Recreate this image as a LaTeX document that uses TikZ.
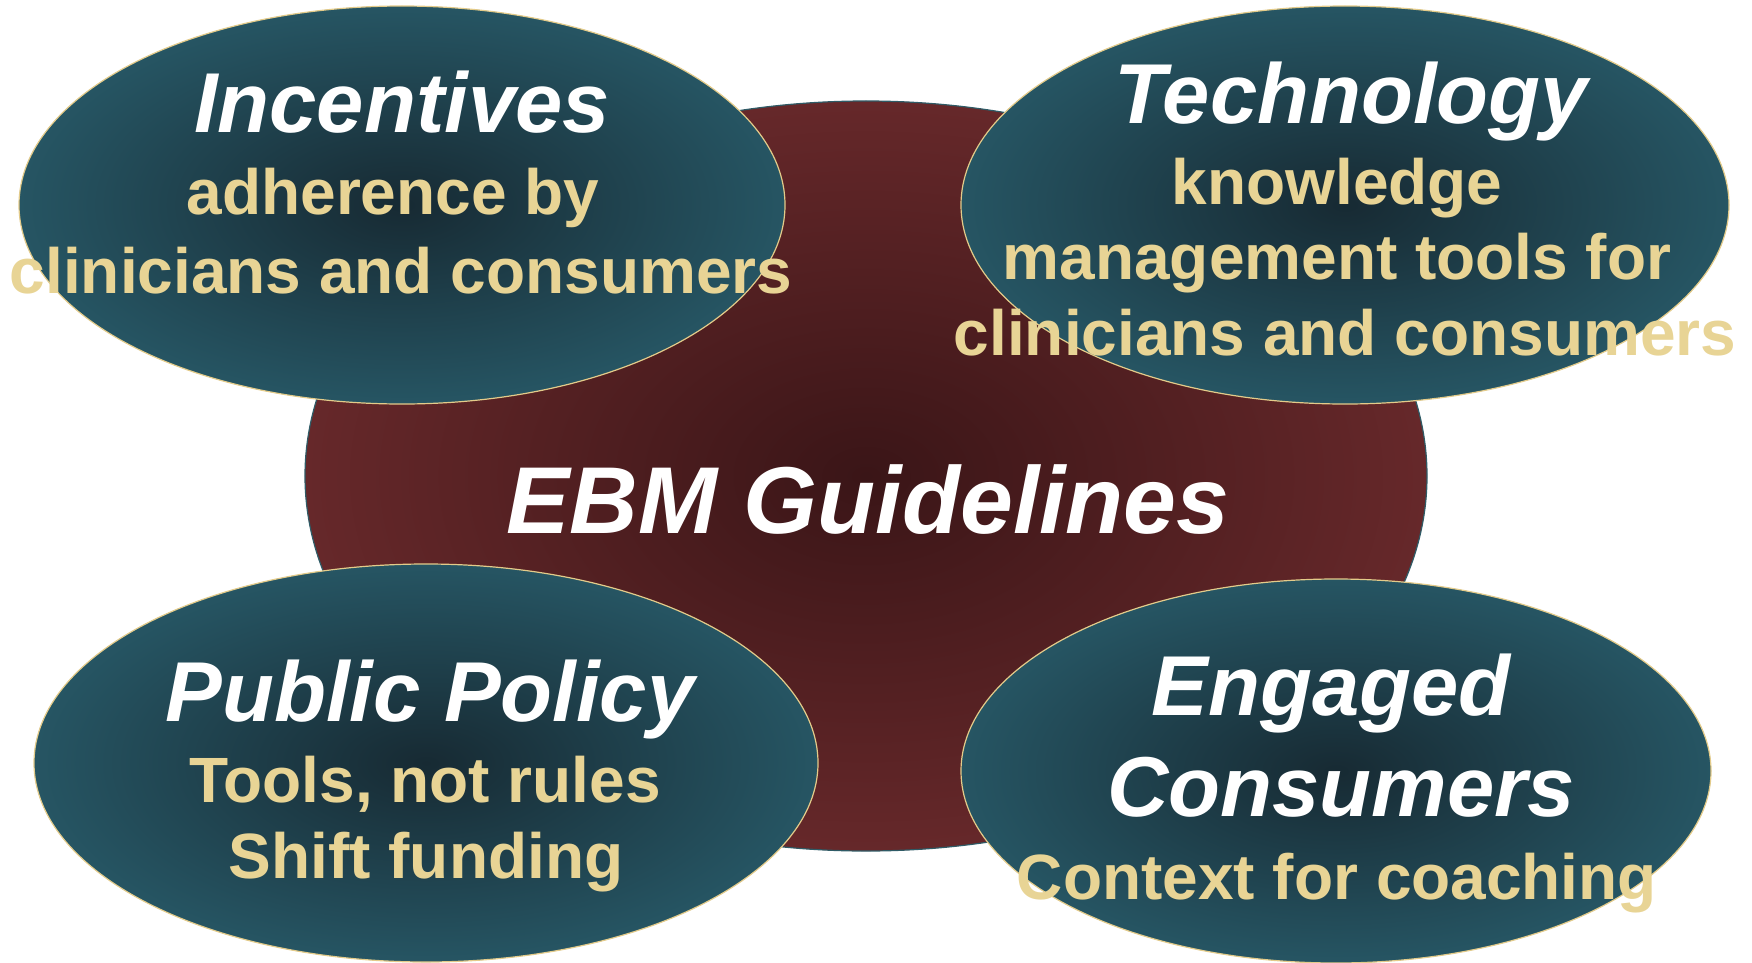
\documentclass[tikz,border=0pt]{standalone}
\usepackage{fontspec}
\setmainfont{Liberation Sans}
\usetikzlibrary{shapes.geometric}
\definecolor{tealout}{HTML}{265563}
\definecolor{tealin}{HTML}{172A33}
\definecolor{wineout}{HTML}{66282A}
\definecolor{winein}{HTML}{3A1517}
\definecolor{sand}{HTML}{E8D495}
\definecolor{rim}{HTML}{E3CB8A}
\definecolor{winerim}{HTML}{2F5B66}
\tikzset{
  core/.style={ellipse,inner sep=0pt,draw=winerim,line width=1.2bp,shading=radial,inner color=winein,outer color=wineout},
  bubble/.style={ellipse,inner sep=0pt,draw=rim,line width=1.2bp,shading=radial,inner color=tealin,outer color=tealout},
  head/.style={anchor=base,inner sep=0pt,text=white,font=\fontsize{85bp}{90bp}\selectfont\bfseries\itshape},
  note/.style={anchor=base,inner sep=0pt,text=sand,font=\fontsize{64bp}{70bp}\selectfont\bfseries}
}

\begin{document}
\begin{tikzpicture}[x=1bp,y=-1bp]
\useasboundingbox (0,0) rectangle (1752,962);
\clip (0,0) rectangle (1752,962);
% the centre and the four around it
\node[core,minimum width=1122bp,minimum height=750bp] (ebm) at (866,476) {};
\node[bubble,minimum width=766bp,minimum height=398bp] (incent) at (402,205) {};
\node[bubble,minimum width=768bp,minimum height=398bp] (tech) at (1345,205) {};
\node[bubble,minimum width=784bp,minimum height=398bp] (policy) at (426,763) {};
\node[bubble,minimum width=750bp,minimum height=384bp] (engaged) at (1336,771) {};
% texts
\node[anchor=base,inner sep=0pt,text=white,font=\fontsize{95bp}{100bp}\selectfont\bfseries\itshape] (ebm-t) at (868,533) {EBM Guidelines};
\node[head] (incent-t) at (402,132) {Incentives};
\node[note] (incent-a) at (393,214) {adherence by};
\node[note] (incent-b) at (401,293) {clinicians and consumers};
\node[head] (tech-t) at (1351,123) {Technology};
\node[note] (tech-a) at (1337,204) {knowledge};
\node[note] (tech-b) at (1337,279) {management tools for};
\node[note] (tech-c) at (1345,355) {clinicians and consumers};
\node[head] (policy-t) at (430,721) {Public Policy};
\node[note] (policy-a) at (425,802) {Tools, not rules};
\node[note] (policy-b) at (426,878) {Shift funding};
\node[head] (engaged-t) at (1331,715) {Engaged};
\node[head] (engaged-u) at (1341,816) {Consumers};
\node[note] (engaged-a) at (1337,899) {Context for coaching};
\end{tikzpicture}
\end{document}
